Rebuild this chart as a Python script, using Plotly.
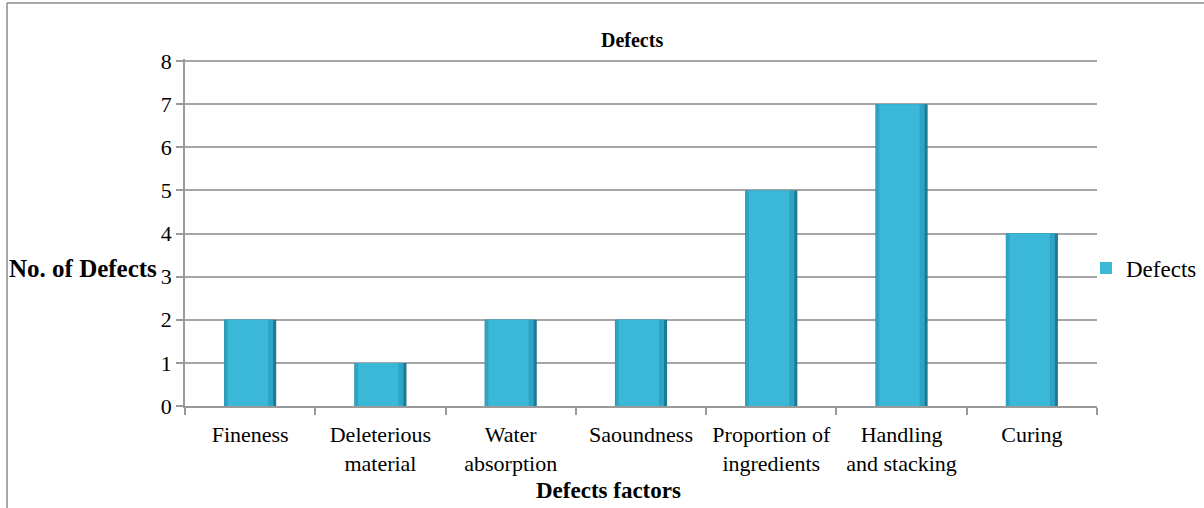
import plotly.graph_objects as go

# Defect counts per factor
categories = ["Fineness", "Deleterious<br>material", "Water<br>absorption", "Saoundness",
              "Proportion of<br>ingredients", "Handling<br>and stacking", "Curing"]
defects = [2, 1, 2, 2, 5, 7, 4]
y_ticks = [0, 1, 2, 3, 4, 5, 6, 7, 8]

W, H = 1204, 508
L, R, T, B = 185, 107, 59, 102
pw, ph = W - L - R, H - T - B

def px_x(p):
    return (p - L) / pw

def px_y(p):
    return (H - B - p) / ph

FONT = "Liberation Serif"
AXIS_GREY = "#9A9A9A"

fig = go.Figure()
# layered columns: dark shell, mid tone, lighter face
fig.add_trace(go.Bar(x=categories, y=defects, width=0.40, offset=-0.20,
                     marker=dict(color="#1C7A92", line=dict(width=0)),
                     name="Defects", showlegend=False, hoverinfo="skip"))
fig.add_trace(go.Bar(x=categories, y=defects, width=0.375, offset=-0.198,
                     marker=dict(color="#2DA4C3", line=dict(width=0)),
                     name="Defects", showlegend=False, hoverinfo="skip"))
fig.add_trace(go.Bar(x=categories, y=defects, width=0.31, offset=-0.172,
                     marker=dict(color="#3BB8D8", line=dict(width=0)),
                     name="Defects", showlegend=True))

fig.update_layout(
    width=W, height=H,
    margin=dict(l=L, r=R, t=T, b=B, pad=0, autoexpand=False),
    paper_bgcolor="white", plot_bgcolor="white",
    barmode="overlay",
    font=dict(family=FONT, size=23, color="black"),
    showlegend=True,
    legend=dict(x=px_x(1086), y=px_y(268), xanchor="left", yanchor="middle",
                font=dict(size=23, family=FONT, color="black"),
                bgcolor="rgba(0,0,0,0)", itemwidth=30),
    xaxis=dict(type="category", showgrid=False, showline=True, linecolor=AXIS_GREY,
               linewidth=1.5, ticks="outside", tickson="boundaries", ticklen=7,
               tickcolor=AXIS_GREY, tickwidth=1.5, ticklabelstandoff=8, tickangle=0,
               tickfont=dict(size=22, family=FONT), range=[-0.5, 6.5]),
    yaxis=dict(range=[0, 8.05], tickvals=y_ticks, showgrid=True, gridcolor="#A6A6A6",
               gridwidth=1.5, showline=True, linecolor=AXIS_GREY, linewidth=1.5,
               ticks="outside", ticklen=7, tickcolor=AXIS_GREY, tickwidth=1.5,
               tickfont=dict(size=22, family=FONT), zeroline=False),
    annotations=[
        dict(text="<b>Defects</b>", xref="paper", yref="paper", x=px_x(632), y=px_y(40),
             xanchor="center", yanchor="middle", showarrow=False,
             font=dict(size=20, family=FONT)),
        dict(text="<b>No. of Defects</b>", xref="paper", yref="paper", x=px_x(7), y=px_y(268),
             xanchor="left", yanchor="middle", showarrow=False,
             font=dict(size=25, family=FONT)),
        dict(text="<b>Defects factors</b>", xref="paper", yref="paper", x=px_x(608), y=px_y(490),
             xanchor="center", yanchor="middle", showarrow=False,
             font=dict(size=23, family=FONT)),
    ],
    shapes=[
        dict(type="line", xref="paper", yref="paper", x0=px_x(7), x1=px_x(7),
             y0=px_y(3), y1=px_y(520), line=dict(color="#8C8C8C", width=1.5)),
        dict(type="line", xref="paper", yref="paper", x0=px_x(7), x1=px_x(1210),
             y0=px_y(3), y1=px_y(3), line=dict(color="#8C8C8C", width=1.5)),
    ],
)

fig.write_html("out.html")
